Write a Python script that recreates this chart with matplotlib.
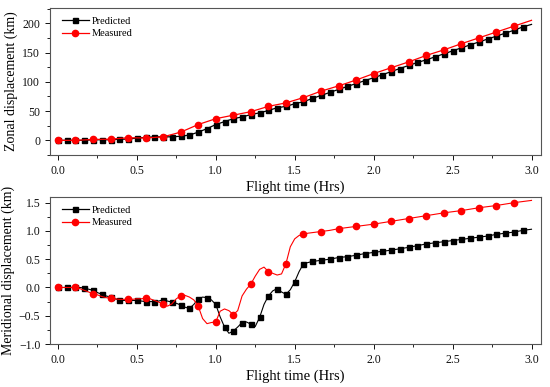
import numpy as np
import matplotlib
matplotlib.use("Agg")
import matplotlib.pyplot as plt
from matplotlib.lines import Line2D
from matplotlib.ticker import MultipleLocator

plt.rcParams['font.family'] = ['Liberation Serif', 'DejaVu Serif']

# ---- zonal displacement (km) ----
# predicted, every 1/18 hr from 0 to 3.0
zon_pred_t = np.arange(55) / 18.0
zon_pred = [0, 0, 0, 0, 1, 1, 1, 2, 2, 4, 5, 6, 6, 6, 7, 9, 14, 20, 27, 32,
            37, 40, 44, 47, 51, 55.7, 58, 62.5, 66, 71.5, 76.7, 81.8, 87, 92,
            97, 102, 107, 112, 117.5, 122.7, 128, 133, 137.5, 142.6, 147.7,
            152.8, 158, 163, 168, 173, 178, 183, 188, 193.7, 198]
# measured, every 1/9 hr from 0 to 3.0
zon_meas_t = np.arange(28) / 9.0
zon_meas = [0, 0, 1.5, 2, 4.5, 4, 6, 14, 27, 37, 43, 49, 58, 64, 73, 84, 93,
            103, 114, 124, 134, 145, 154.5, 165, 175, 185, 195, 205]

# ---- meridional displacement (km) ----
# line samples: every 1/36 hr up to 1.611, then every 1/18 hr to 3.0
mer_t = np.concatenate([np.arange(59) / 36.0, np.arange(30, 55) / 18.0])
mer_pred = [0.00, 0.00, 0.00, 0.00, 0.00, 0.00, -0.01, -0.03, -0.05, -0.09,
            -0.12, -0.15, -0.17, -0.20, -0.22, -0.23, -0.23, -0.23, -0.23, -0.24,
            -0.25, -0.25, -0.25, -0.24, -0.22, -0.24, -0.26, -0.28, -0.31, -0.35,
            -0.37, -0.30, -0.20, -0.17, -0.18, -0.22, -0.30, -0.52, -0.70, -0.81,
            -0.77, -0.70, -0.62, -0.61, -0.65, -0.69, -0.53, -0.30, -0.15, -0.06,
            -0.02, -0.08, -0.12, -0.04, 0.10, 0.28, 0.42, 0.44, 0.46,
            0.48, 0.50, 0.53, 0.545, 0.57, 0.60, 0.62, 0.64, 0.66, 0.685, 0.71,
            0.74, 0.77, 0.79, 0.81, 0.83, 0.85, 0.87, 0.89, 0.91, 0.94, 0.96,
            0.98, 1.01, 1.03]
mer_meas = [0.00, 0.00, 0.00, 0.00, 0.00, -0.02, -0.05, -0.08, -0.11, -0.13,
            -0.16, -0.18, -0.19, -0.20, -0.21, -0.21, -0.21, -0.21, -0.20, -0.20,
            -0.19, -0.20, -0.23, -0.26, -0.29, -0.33, -0.29, -0.20, -0.15, -0.14,
            -0.17, -0.22, -0.33, -0.55, -0.64, -0.62, -0.61, -0.42, -0.38, -0.41,
            -0.48, -0.41, -0.15, -0.03, 0.06, 0.20, 0.32, 0.36, 0.28, 0.25,
            0.22, 0.24, 0.42, 0.72, 0.86, 0.92, 0.94, 0.96, 0.97,
            0.99, 1.01, 1.04, 1.06, 1.08, 1.10, 1.12, 1.145, 1.17, 1.195, 1.22,
            1.245, 1.27, 1.295, 1.32, 1.34, 1.36, 1.385, 1.41, 1.43, 1.45, 1.475,
            1.50, 1.52, 1.54]

labels = ["Predicted", "Measured"]
xticks = [0.0, 0.5, 1.0, 1.5, 2.0, 2.5, 3.0]

BLACK = "#000000"
RED = "#ff0000"

fig = plt.figure(figsize=(5.5, 3.87), dpi=100)
ax1 = fig.add_axes([0.0909, 0.5995, 0.8927, 0.3798])
ax2 = fig.add_axes([0.0909, 0.1111, 0.8927, 0.3798])


def style_axes(ax):
    ax.set_xlim(-0.05, 3.06)
    ax.xaxis.set_major_locator(MultipleLocator(0.5))
    ax.xaxis.set_minor_locator(MultipleLocator(0.25))
    ax.set_xticks(xticks)
    ax.set_xticklabels(["%.1f" % v for v in xticks])
    ax.tick_params(which='major', direction='out', length=3.5, width=0.7,
                   labelsize=8.5, colors='#111111', top=False, right=False)
    ax.tick_params(which='minor', direction='out', length=2, width=0.6,
                   top=False, right=False)
    for s in ax.spines.values():
        s.set_linewidth(0.8)
        s.set_color('#555555')
    ax.set_xlabel("Flight time (Hrs)", fontsize=10.5, labelpad=3)


# top panel
ax1.plot(zon_pred_t, zon_pred, color=BLACK, lw=0.9)
ax1.plot(zon_pred_t[:-1], zon_pred[:-1], ls='none', marker='s', ms=3.6,
         color=BLACK)
ax1.plot(zon_meas_t, zon_meas, color=RED, lw=0.9)
ax1.plot(zon_meas_t[:-1], zon_meas[:-1], ls='none', marker='o', ms=4.5,
         color=RED)
ax1.set_ylim(-25, 226)
ax1.yaxis.set_major_locator(MultipleLocator(50))
ax1.yaxis.set_minor_locator(MultipleLocator(25))
ax1.set_ylabel("Zonal displacement (km)", fontsize=10, labelpad=3)
style_axes(ax1)

# bottom panel
pred_mk = np.isclose((mer_t * 18) % 1, 0) | np.isclose((mer_t * 18) % 1, 1)
pred_mk &= mer_t < 2.99
meas_mk = np.isclose((mer_t * 9) % 1, 0) | np.isclose((mer_t * 9) % 1, 1)
meas_mk &= mer_t < 2.99
mer_pred_a = np.array(mer_pred)
mer_meas_a = np.array(mer_meas)
ax2.plot(mer_t, mer_pred_a, color=BLACK, lw=0.8)
ax2.plot(mer_t[pred_mk], mer_pred_a[pred_mk], ls='none', marker='s', ms=3.6,
         color=BLACK)
ax2.plot(mer_t, mer_meas_a, color=RED, lw=0.8)
ax2.plot(mer_t[meas_mk], mer_meas_a[meas_mk], ls='none', marker='o', ms=4.5,
         color=RED)
ax2.set_ylim(-1.0, 1.6)
ax2.yaxis.set_major_locator(MultipleLocator(0.5))
ax2.yaxis.set_minor_locator(MultipleLocator(0.25))
ax2.set_ylabel("Meridional displacement (km)", fontsize=10, labelpad=3)
style_axes(ax2)

handles = [Line2D([], [], color=BLACK, marker='s', ms=3.6, lw=0.9),
           Line2D([], [], color=RED, marker='o', ms=4.5, lw=0.9)]
for ax in (ax1, ax2):
    ax.legend(handles, labels, loc='upper left', frameon=False, fontsize=7.5,
              handlelength=2.6, handletextpad=0.3, labelspacing=0.3,
              borderaxespad=0.0, bbox_to_anchor=(0.015, 0.97))

fig.savefig("out.png", dpi=100)
